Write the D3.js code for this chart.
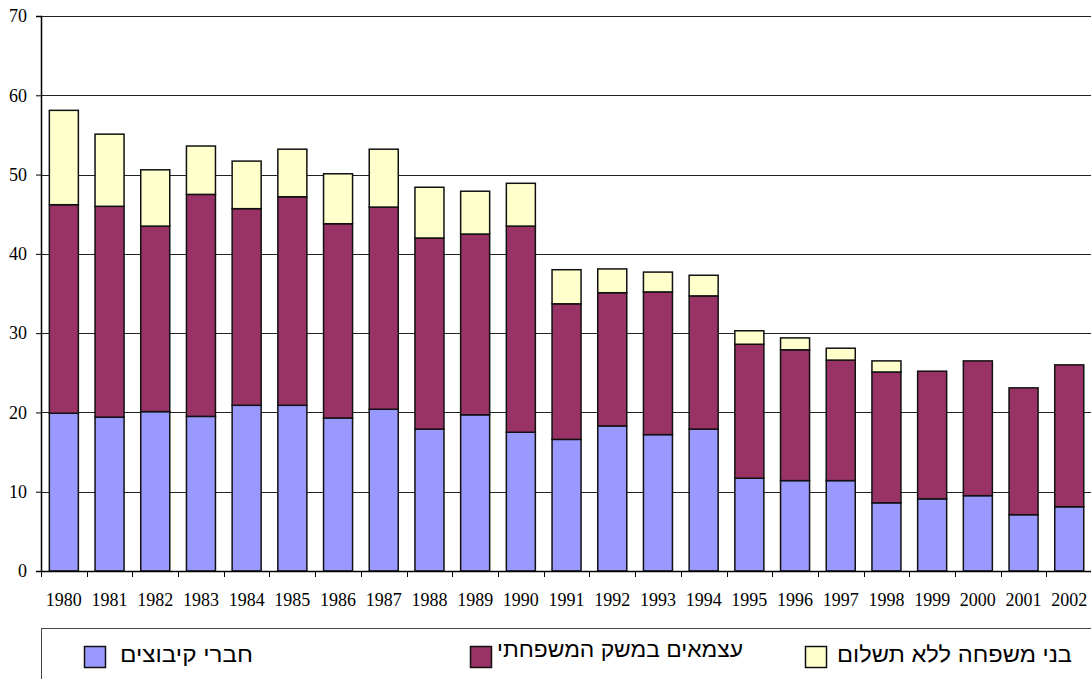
<!DOCTYPE html>
<html>
<head>
<meta charset="utf-8">
<script src="https://cdn.jsdelivr.net/npm/d3@7"></script>
<style>
  body { margin: 0; background: #fff; }
  svg { display: block; }
  .legend text { font-family: "Liberation Sans", "DejaVu Sans", sans-serif; font-size: 22px; fill: #000; }
</style>
</head>
<body>
<div class="chart"></div>
<script>
// Data
var years = ["1980","1981","1982","1983","1984","1985","1986","1987","1988","1989","1990","1991",
  "1992","1993","1994","1995","1996","1997","1998","1999","2000","2001","2002"];
var kibbutz = [19.9,19.4,20.1,19.5,20.9,20.9,19.3,20.4,17.9,19.7,17.5,16.6,18.3,17.2,17.9,11.7,11.4,11.4,8.6,9.1,9.5,7.1,8.1];
var selfEmployed = [26.3,26.6,23.4,28.0,24.8,26.3,24.5,25.5,24.1,22.8,26.0,17.1,16.8,18.0,16.8,16.9,16.5,15.2,16.5,16.1,17.0,16.0,17.9];
var unpaidFamily = [11.9,9.1,7.1,6.1,6.0,6.0,6.3,7.3,6.4,5.4,5.4,4.3,3.0,2.5,2.6,1.7,1.5,1.5,1.4,0,0,0,0];
var seriesNames = ["חברי קיבוצים", "עצמאים במשק המשפחתי", "בני משפחה ללא תשלום"];
var seriesColors = ["#9999ff", "#993366", "#ffffcc"];
var yTicks = [0, 10, 20, 30, 40, 50, 60, 70];

var svgWidth = 1091;
var svgHeight = 679;
var margin = { top: 16, left: 41, bottom: 108 };
var plotRight = 41 + 23 * 45.7;
var height = svgHeight - margin.top - margin.bottom;

var svg = d3.select(".chart")
  .append("svg")
  .attr("width", svgWidth)
  .attr("height", svgHeight);

var table = years.map(function (y, i) {
  return { year: y, k: kibbutz[i], s: selfEmployed[i], u: unpaidFamily[i] };
});
var stack = d3.stack().keys(["k", "s", "u"])(table);

var x = d3.scaleBand()
  .domain(years)
  .range([margin.left, plotRight])
  .paddingInner(0.365)
  .paddingOuter(0.1825);

var y = d3.scaleLinear()
  .domain([0, 70])
  .range([margin.top + height, margin.top]);

// gridlines
svg.append("g")
  .selectAll("line")
  .data(yTicks.slice(1))
  .enter()
  .append("line")
  .attr("x1", margin.left)
  .attr("x2", plotRight)
  .attr("y1", d => Math.round(y(d)) + 0.5)
  .attr("y2", d => Math.round(y(d)) + 0.5)
  .attr("stroke", "#222")
  .attr("stroke-width", 1);

// bars
stack.forEach(function (layer, li) {
  svg.append("g")
    .selectAll("rect")
    .data(layer.filter(d => d[1] - d[0] > 0))
    .enter()
    .append("rect")
    .attr("x", d => x(d.data.year))
    .attr("width", x.bandwidth())
    .attr("y", d => y(d[1]))
    .attr("height", d => y(d[0]) - y(d[1]))
    .attr("fill", seriesColors[li])
    .attr("stroke", "#111")
    .attr("stroke-width", 1.5);
});

// y axis
var leftAxis = d3.axisLeft(y).tickValues(yTicks).tickSize(5).tickPadding(9);
var gy = svg.append("g")
  .attr("transform", `translate(${margin.left}, 0)`)
  .call(leftAxis);
gy.select(".domain").attr("stroke", "#000").attr("stroke-width", 1.5);
gy.selectAll(".tick line").attr("stroke", "#000");

// x axis: labels centered, ticks between categories
var bottomAxis = d3.axisBottom(x).tickSize(0).tickPadding(22);
var gx = svg.append("g")
  .attr("transform", `translate(0, ${y(0)})`)
  .call(bottomAxis);
gx.select(".domain").attr("stroke", "#000").attr("stroke-width", 1.5);

svg.selectAll(".tick text")
  .attr("font-family", "'Liberation Serif', 'Times New Roman', serif")
  .attr("font-size", "18px")
  .attr("fill", "#000");

var step = x.step();
svg.append("g")
  .selectAll("line")
  .data(years)
  .enter()
  .append("line")
  .attr("x1", d => Math.round(x(d) - step * x.paddingInner() / 2) + 0.5)
  .attr("x2", d => Math.round(x(d) - step * x.paddingInner() / 2) + 0.5)
  .attr("y1", y(0))
  .attr("y2", y(0) + 6)
  .attr("stroke", "#000");

// legend
var legend = svg.append("g").attr("class", "legend");
legend.append("rect")
  .attr("x", 41.5)
  .attr("y", 628.5)
  .attr("width", 1100)
  .attr("height", 80)
  .attr("fill", "#fff")
  .attr("stroke", "#444");

var legendItems = [
  { sx: 84, tx: 253, ty: 662, w: 133 },
  { sx: 470, tx: 743, ty: 657, w: 246 },
  { sx: 805, tx: 1072, ty: 662, w: 235 }
];
legendItems.forEach(function (it, i) {
  legend.append("rect")
    .attr("x", it.sx + 0.5)
    .attr("y", 646.5)
    .attr("width", 21)
    .attr("height", 21)
    .attr("fill", seriesColors[i])
    .attr("stroke", "#111")
    .attr("stroke-width", 1.5);
  legend.append("text")
    .attr("x", it.tx)
    .attr("y", it.ty)
    .attr("direction", "rtl")
    .attr("text-anchor", "start")
    .attr("textLength", it.w)
    .attr("lengthAdjust", "spacingAndGlyphs")
    .text(seriesNames[i]);
});
</script>
</body>
</html>
